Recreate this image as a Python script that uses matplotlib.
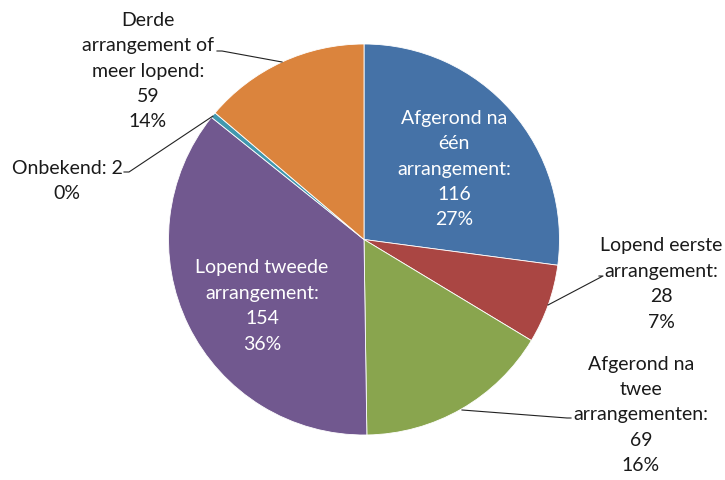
import matplotlib
matplotlib.use("Agg")
import matplotlib.pyplot as plt

# slice data, clockwise from 12 o'clock
labels = ["Afgerond na\néén\narrangement:",
          "Lopend eerste\narrangement:",
          "Afgerond na\ntwee\narrangementen:",
          "Lopend tweede\narrangement:",
          "Onbekend:",
          "Derde\narrangement of\nmeer lopend:"]
values = [116, 28, 69, 154, 2, 59]
colors = ["#4572A7", "#AA4643", "#89A54E", "#71588F", "#4198AF", "#DB843D"]

W, H = 725, 481
fig = plt.figure(figsize=(W / 100, H / 100), dpi=100)
ax = fig.add_axes([0, 0, 1, 1])

cx, cy, r = 364, H - 240.5, 195.5
ax.pie(values, colors=colors, startangle=90, counterclock=False,
       center=(cx, cy), radius=r, frame=True,
       wedgeprops=dict(edgecolor="white", linewidth=0.6))
ax.set_xlim(0, W)
ax.set_ylim(0, H)
ax.set_aspect("equal")
ax.axis("off")

total = sum(values)
texts = []
for lab, v in zip(labels, values):
    pct = round(100 * v / total)
    if lab == "Onbekend:":
        texts.append(f"{lab} {v}\n{pct}%")
    else:
        texts.append(f"{lab}\n{v}\n{pct}%")

# label centres (pixel coords, y from top) and text colours
label_pos = [(454, 169), (661, 284), (641, 415), (262, 306), (67, 181), (148, 71)]
label_col = ["white", "#1a1a1a", "#1a1a1a", "white", "#1a1a1a", "#1a1a1a"]

plt.rcParams['font.family'] = ['Lato', 'DejaVu Sans']
for t, (px, py), c in zip(texts, label_pos, label_col):
    ax.text(px, H - py, t, ha="center", va="center", fontsize=14,
            color=c, linespacing=1.6)

# leader lines
leaders = [
    [(599, 277), (603, 277), (548, 306)],
    [(462, 411), (567, 419), (571, 419)],
    [(124, 173), (129, 173), (213, 117)],
    [(217, 52), (222, 52), (282, 63)],
]
for pts in leaders:
    xs = [p[0] for p in pts]
    ys = [H - p[1] for p in pts]
    ax.plot(xs, ys, color="#222222", linewidth=0.8)

fig.savefig("out.png", dpi=100)
